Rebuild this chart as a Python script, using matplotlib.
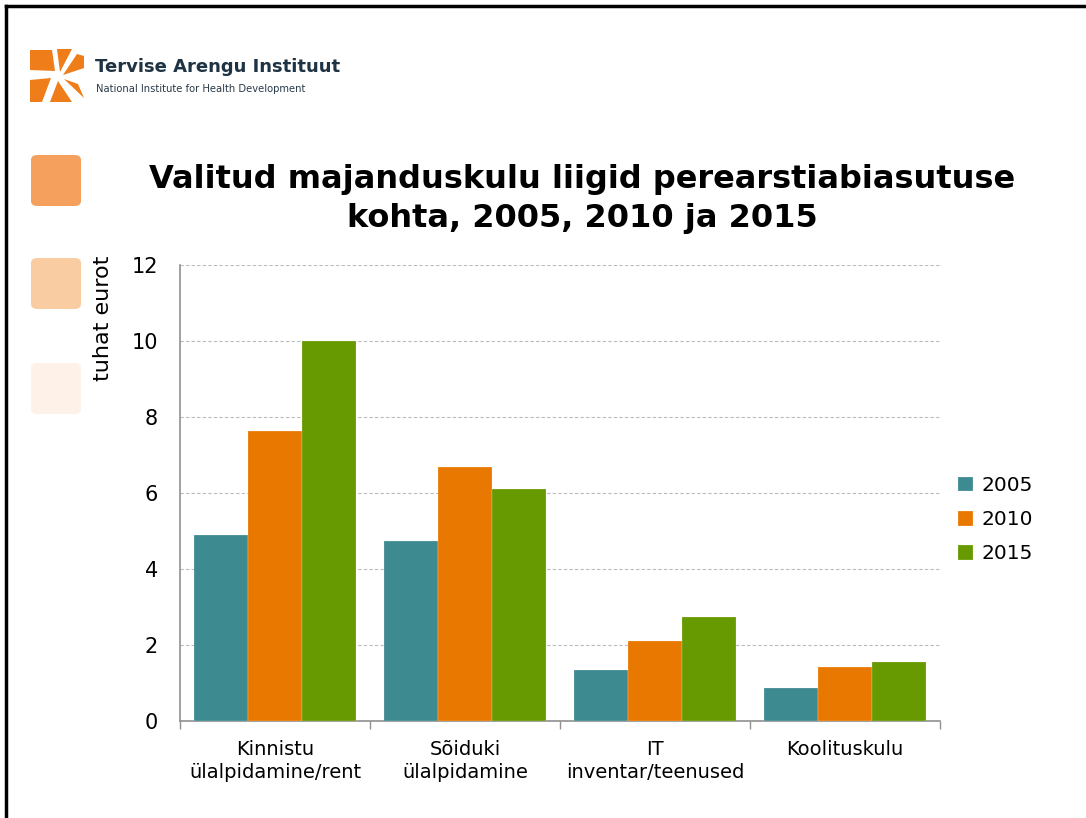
import matplotlib
matplotlib.use("Agg")
import matplotlib.pyplot as plt
import numpy as np
from matplotlib.patches import Polygon, FancyBboxPatch
from matplotlib.lines import Line2D

categories = ["Kinnistu\nülalpidamine/rent", "Sõiduki\nülalpidamine", "IT\ninventar/teenused", "Koolituskulu"]
years = ["2005", "2010", "2015"]
v2005 = [4.89, 4.74, 1.34, 0.87]
v2010 = [7.63, 6.68, 2.10, 1.42]
v2015 = [10.0, 6.10, 2.74, 1.55]
yticks = [0, 2, 4, 6, 8, 10, 12]
colors = ["#3E8A91", "#E87800", "#679900"]

W, H = 1086, 818
fig = plt.figure(figsize=(W / 100, H / 100), dpi=100)

def fx(x):
    return x / W

def fy(y):
    return 1 - y / H

ax = fig.add_axes([fx(180), fy(721), fx(940) - fx(180), fy(265) - fy(721)])
x = np.arange(len(categories))
bw = 0.284
for i, (vals, c, lab) in enumerate(zip([v2005, v2010, v2015], colors, years)):
    ax.bar(x + (i - 1) * bw, vals, bw, color=c, label=lab, zorder=3,
           edgecolor="#FFFFFF80", linewidth=0.3)

ax.set_xlim(-0.5, len(categories) - 0.5)
ax.set_ylim(0, 12)
ax.set_yticks(yticks)
ax.set_yticklabels([str(t) for t in yticks], fontsize=15)
ax.tick_params(axis="y", length=0, pad=16)
ax.set_xticks(x)
ax.set_xticklabels(categories, fontsize=14, linespacing=1.25)
ax.tick_params(axis="x", length=0, pad=14)
ax.set_xticks(np.arange(-0.5, len(categories), 1.0), minor=True)
ax.tick_params(axis="x", which="minor", length=6, color="#909090", width=1)
ax.grid(axis="y", color="#BBBBBB", linestyle=(0, (3, 2)), linewidth=0.8, zorder=0)
for s in ["top", "right"]:
    ax.spines[s].set_visible(False)
ax.spines["left"].set_color("#909090")
ax.spines["bottom"].set_color("#909090")
ax.spines["left"].set_linewidth(1.2)
ax.spines["bottom"].set_linewidth(1.2)

leg = ax.legend(loc="upper left", bbox_to_anchor=(fx(950), fy(468)),
                bbox_transform=fig.transFigure, frameon=False, fontsize=14.5,
                handlelength=0.75, handleheight=0.75, handletextpad=0.4,
                labelspacing=0.75, borderaxespad=0)

# y label
fig.text(fx(103), fy(318), "tuhat eurot", rotation=90, ha="center", va="center", fontsize=16)

# title
fig.text(fx(582), fy(199), "Valitud majanduskulu liigid perearstiabiasutuse\nkohta, 2005, 2010 ja 2015",
         ha="center", va="center", fontsize=23, fontweight="bold", linespacing=1.3)

# frame lines
fig.add_artist(Line2D([fx(6), fx(1086)], [fy(6), fy(6)], color="black", lw=2.5))
fig.add_artist(Line2D([fx(6), fx(6)], [fy(6), fy(818)], color="black", lw=2.5))

# left decorative squares
for y0, c in [(155, "#F5A05C"), (258, "#F9CCA2"), (363, "#FDF1E8")]:
    fig.add_artist(FancyBboxPatch((fx(31), fy(y0 + 51)), fx(50), 51 / H,
                                  boxstyle="round,pad=0,rounding_size=0.006",
                                  facecolor=c, edgecolor="none", transform=fig.transFigure))

# logo starburst
cx, cy = 57, 76
rays = [
    [(30, 50), (52, 50), (cx - 2, cy - 5), (30, 70)],
    [(57, 49), (72, 49), (cx + 3, cy - 4)],
    [(77, 54), (84, 56), (84, 68), (cx + 6, cy - 1)],
    [(30, 80), (cx - 6, cy + 2), (42, 102), (30, 102)],
    [(cx + 1, cy + 5), (72, 102), (50, 102)],
    [(78, 84), (cx + 7, cy + 3), (84, 98)],
]
for r in rays:
    pts = [(fx(a), fy(b)) for a, b in r]
    fig.add_artist(Polygon(pts, closed=True, facecolor="#EE7D1A", edgecolor="none",
                           transform=fig.transFigure))
fig.text(fx(95), fy(67), "Tervise Arengu Instituut", fontsize=13, fontweight="bold",
         color="#1E3344", ha="left", va="center")
fig.text(fx(96), fy(89), "National Institute for Health Development", fontsize=7.2,
         color="#2A3B4A", ha="left", va="center")

fig.savefig("out.png", dpi=100, facecolor="white")
